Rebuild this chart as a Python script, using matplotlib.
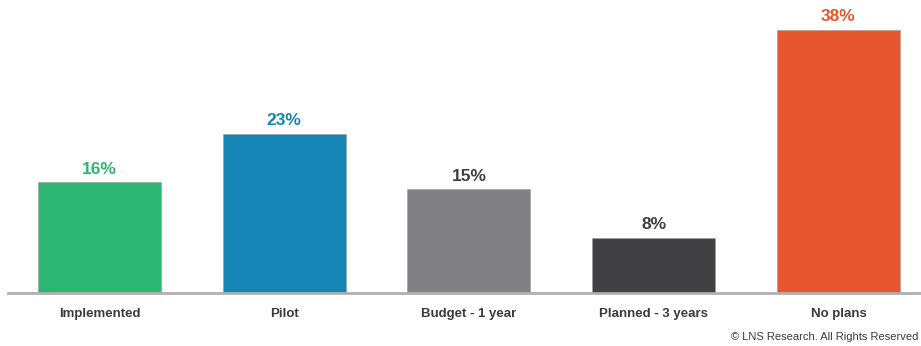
import matplotlib
matplotlib.use("Agg")
import matplotlib.pyplot as plt
from matplotlib import font_manager

categories = ["Implemented", "Pilot", "Budget - 1 year", "Planned - 3 years", "No plans"]
values = [16, 23, 15, 8, 38]
bar_colors = ["#2DB673", "#1485B5", "#808083", "#414143", "#E8562F"]
label_colors = ["#2DB673", "#1485B5", "#404042", "#404042", "#E8562F"]

names = {f.name for f in font_manager.fontManager.ttflist}
family = "Liberation Sans Narrow" if "Liberation Sans Narrow" in names else "Liberation Sans"
plt.rcParams["font.family"] = [family, "DejaVu Sans"]

fig = plt.figure(figsize=(9.21, 3.46), dpi=100)
ax = fig.add_axes([8 / 921, 53 / 346, 1 - 8 / 921, 293 / 346])

x = range(len(categories))
ax.bar(x, values, width=0.666, color=bar_colors, edgecolor="#9a9a9a", linewidth=0.4)
for xi, v, c in zip(x, values, label_colors):
    ax.text(xi, v + 0.8, f"{v}%", ha="center", va="bottom", fontsize=12.5,
            fontweight="bold", color=c)

ax.set_xlim(-0.495, 4.447)
ax.set_ylim(0, 42.3)
ax.set_xticks(list(x))
ax.set_xticklabels(categories, fontsize=9.5, fontweight="bold", color="#3a3a3a")
ax.tick_params(axis="x", length=0, pad=10.5)
ax.set_yticks([])
for s in ["top", "right", "left"]:
    ax.spines[s].set_visible(False)
ax.spines["bottom"].set_color("#b0b0b0")
ax.spines["bottom"].set_linewidth(2)

fig.text(918 / 921, 9 / 346, "© LNS Research. All Rights Reserved", fontsize=8,
         color="#3a3a3a", ha="right", va="center")

fig.savefig("out.png", dpi=100)
